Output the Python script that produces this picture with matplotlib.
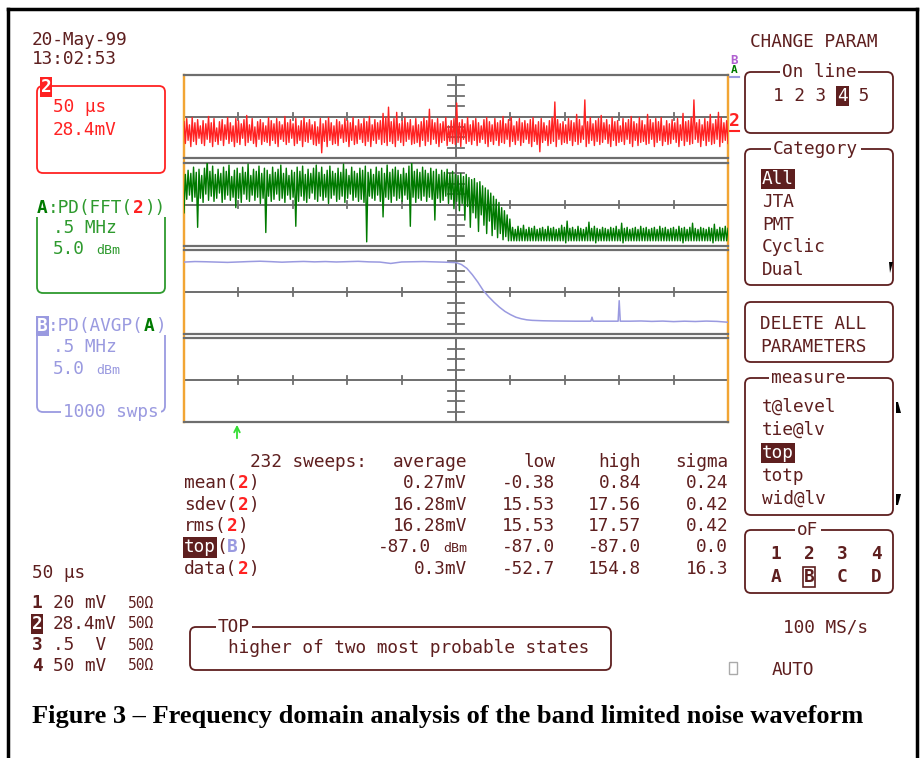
import numpy as np
import matplotlib
matplotlib.use('Agg')
import matplotlib.pyplot as plt
from matplotlib.patches import FancyBboxPatch, Rectangle, Polygon

W, H = 923, 758
MAROON = '#5e1f1f'
RED = '#ff2222'
GREEN_T = '#007a00'
GREEN = '#2e9a2e'
BLUE = '#9a9ae0'
PURPLE = '#b060d0'
ORANGE = '#f2a534'
GRAY = '#6e6e6e'
MONO = 'DejaVu Sans Mono'

# ---------------- data ----------------
# channel 2 noise trace (vertical divisions relative to centre line), 50 us/div
red_trace_div = [
    -0.5, -2.6, -0.2, -2.3, -0.8, -2.9, -0.1, -2.4, -0.6, -2.7,
    -0.3, -2.1, -0.9, -2.6, -0.4, -2.8, -0.7, -2.2, 0.0, -2.5,
    -0.6, -2.9, -0.2, -2.4, -1.1, -2.7, -0.5, -2.3, -0.3, -2.8,
    -0.8, -2.2, -0.1, -2.6, -0.6, -2.4, -0.9, -2.9, -0.2, -2.5,
    -0.4, -2.7, -0.7, -2.1, -0.3, -2.8, 0.1, -2.5, -0.8, -2.3,
    -0.2, -2.6, -1.0, -2.9, -0.5, -2.2, -0.3, -2.7, -0.6, -2.4,
    -0.9, -2.5, -0.1, -2.8, -0.4, -2.3, -0.7, -2.6, -0.2, -2.9,
    -0.5, -2.2, -0.8, -2.4, 0.0, -2.7, -0.6, -2.5, -0.3, -2.1,
    -0.7, -2.8, -0.2, -2.6, -0.9, -2.3, -0.4, -2.9, -0.1, -2.4,
    -0.6, -2.5, -0.3, -2.2, -0.8, -2.7, -0.5, -2.8, -1.0, -2.6,
    -0.2, -3.5, -0.7, -2.4, -0.4, -2.9, -0.1, -2.3, -0.6, -2.7,
    -0.9, -2.6, -0.3, -2.8, -0.5, -2.1, -0.8, -2.5, -0.2, -2.4,
    -0.4, -2.9, -0.6, -2.3, -0.1, -2.7, -0.9, -2.6, -0.3, -2.2,
    -0.7, -2.5, -0.2, -2.8, -0.5, -2.4, 0.0, -2.9, -0.8, -2.3,
    -0.3, -2.6, -0.6, -2.2, -0.4, -2.7, 0.3, -2.5, -0.1, -2.8,
    0.9, -2.4, -0.5, -2.6, -0.2, -2.9, 0.4, -2.3, -0.7, -2.5,
    -0.4, -2.8, -0.1, -2.4, -0.6, -2.2, -0.3, -2.7, -0.9, -2.6,
    -0.2, -2.5, -0.8, -2.9, -0.5, -2.3, -0.1, -2.8, -0.4, -2.4,
    0.7, -2.7, -0.3, -2.2, -0.6, -2.6, -0.2, -2.9, -0.7, -2.5,
    -0.5, -2.3, -0.1, -2.8, -0.9, -2.4, -0.4, -2.6, -0.2, -2.7,
    1.3, -2.5, -0.6, -2.9, -0.3, -2.2, -0.7, -2.6, -0.1, -2.4,
    -0.8, -2.7, -0.4, -2.3, -0.2, -2.8, -0.6, -2.5, -0.9, -2.2,
    -0.3, -2.6, -0.1, -2.9, -0.5, -2.4, -0.8, -2.7, -0.2, -2.3,
    -0.6, -2.8, -0.4, -2.5, 0.0, -2.6, -0.7, -2.2, -0.3, -2.9,
    -0.1, -2.4, -0.9, -2.7, -0.5, -2.3, -0.2, -2.8, -0.6, -2.5,
    -0.4, -2.2, -0.7, -2.6, -0.3, -2.9, -0.1, -2.4, -0.8, -2.7,
    -0.5, -3.4, -0.2, -2.5, -0.6, -2.3, -0.9, -2.8, -0.4, -2.6,
    -0.1, -2.4, 1.4, -2.9, -0.3, -2.2, -0.7, -2.7, -0.5, -2.5,
    -0.8, -2.6, -0.2, -2.3, -0.4, -2.8, -0.6, -2.4, 0.2, -2.7,
    -0.3, -2.5, -0.9, -2.2, 1.6, -2.9, -0.5, -2.6, -0.1, -2.3,
    -0.7, -2.8, -0.4, -2.4, -0.2, -2.7, 0.1, -2.5, -0.6, -2.2,
    -0.3, -2.6, -0.8, -2.9, -0.1, -2.3, -0.5, -2.8, -0.4, -2.5,
    -0.9, -2.4, -0.2, -2.7, -0.6, -2.2, -0.3, -2.6, 0.0, -2.9,
    -0.5, -2.3, -0.7, -2.8, -0.1, -2.5, -0.4, -2.4, -0.8, -2.7,
    0.2, -2.6, -0.3, -2.2, -0.6, -2.9, -0.2, -2.5, -0.5, -2.3,
    -0.1, -2.8, -0.9, -2.4, -0.4, -2.7, -0.7, -2.6, -0.3, -2.2,
    -0.6, -2.5, -0.2, -2.9, -0.8, -2.3, 0.3, -2.8, -0.5, -2.4,
    -0.4, -2.7, -0.1, -2.6, 1.6, -2.2, -0.6, -2.5, -0.3, -2.9,
    -0.8, -2.3, -0.2, -2.8, -0.5, -2.4, 0.2, -2.7, -0.7, -2.6,
    -0.3, -2.2, 0.4, -2.9, -0.1, -2.5, -0.6, -2.3, -0.4, -2.6,
]

# trace A: power density of FFT(2), divisions (5 dBm/div), 0.5 MHz/div
green_fft_div = [
    -0.8, 2.9, 0.5, 3.3, 0.9, 3.0, 0.3, 3.6, 0.7, 3.1,
    -2.2, 3.4, 0.6, 2.8, 0.2, 3.5, 1.0, 4.4, 0.4, 3.2,
    0.8, 3.7, 0.3, 2.9, 0.6, 3.4, 1.1, 3.0, 0.2, 3.6,
    0.5, 3.2, 0.9, 3.8, 0.4, 2.7, 0.7, 3.3, -0.3, 3.5,
    0.6, 3.0, 0.2, 3.6, 1.0, 3.1, 0.5, 3.9, 0.3, 2.8,
    0.9, 3.4, 0.4, 3.2, 0.7, 3.7, 0.1, 3.0, 0.6, 3.5,
    -2.7, 3.3, 0.8, 2.9, 0.3, 3.6, 0.5, 3.1, 1.0, 3.4,
    0.4, 3.8, 0.6, 3.0, 0.2, 3.5, 0.9, 2.8, 0.5, 3.3,
    0.7, 3.1, -2.1, 3.6, 0.3, 3.2, 0.8, 3.7, 0.4, 2.9,
    0.2, 3.4, 0.6, 3.0, 1.1, 3.5, 0.5, 3.8, 0.3, 3.1,
    0.8, 3.6, 0.4, 2.9, 0.7, 3.3, 0.1, 3.7, 0.6, 3.2,
    0.9, 3.0, 0.3, 3.5, 0.5, 3.1, 0.8, 3.9, 0.2, 3.4,
    0.6, 2.8, 1.0, 3.6, 0.4, 3.2, 0.7, 3.0, 0.3, 3.5,
    0.5, 3.3, 0.2, 3.7, -3.6, 3.1, 0.8, 3.4, 0.6, 2.9,
    0.4, 3.6, 0.9, 3.2, 0.3, 3.5, -1.2, 3.0, 0.7, 3.8,
    0.5, 3.1, 0.2, 3.4, 0.8, 3.6, 0.4, 3.3, 0.6, 2.9,
    0.3, 3.5, 0.9, 3.0, 0.5, 3.7, -2.1, 4.2, 0.7, 3.2,
    0.2, 3.4, 0.6, 3.1, 0.4, 3.6, 0.8, 3.3, 0.3, 3.0,
    0.7, 3.5, 0.5, 3.2, -1.5, 3.4, 0.6, 2.9, 0.2, 3.3,
    0.4, 3.1, 0.8, 3.4, 0.1, 3.0, 0.5, 3.2, -0.4, 2.9,
    0.3, 2.8, -0.6, 3.0, 0.1, 2.7, -1.5, 2.9, -0.2, 2.6,
    -2.2, 2.4, -0.8, 2.5, -1.3, 2.1, -2.6, 2.2, -1.0, 1.8,
    -2.0, 1.6, -2.8, 1.4, -1.6, 1.1, -3.0, 0.8, -2.4, 0.5,
    -3.2, 0.2, -2.8, -0.3, -3.4, -0.6, -3.1, -1.0, -3.5, -1.4,
    -3.5, -2.2, -3.5, -2.4, -3.5, -2.1, -3.5, -2.3, -3.5, -2.0,
    -3.5, -2.4, -3.5, -2.2, -3.5, -2.3, -3.5, -2.1, -3.5, -2.4,
    -3.5, -2.3, -3.5, -2.2, -3.5, -2.4, -3.5, -2.1, -3.5, -2.3,
    -3.5, -2.2, -3.5, -2.4, -3.5, -2.3, -3.5, -2.0, -3.5, -2.2,
    -3.7, -1.6, -3.5, -2.3, -3.5, -2.2, -3.5, -2.4, -3.5, -2.1,
    -3.5, -2.3, -3.5, -2.4, -3.5, -2.2, -3.5, -1.7, -3.5, -2.3,
    -3.5, -2.1, -3.7, -2.3, -3.5, -2.4, -3.5, -2.2, -3.5, -2.3,
    -3.5, -2.4, -3.5, -2.2, -3.5, -2.3, -3.5, -2.1, -3.5, -2.4,
    -3.5, -1.8, -3.7, -2.3, -3.5, -2.2, -3.5, -2.4, -3.5, -2.3,
    -3.5, -2.2, -3.5, -2.4, -3.5, -2.1, -3.5, -2.3, -3.5, -2.2,
    -3.5, -2.4, -3.5, -2.3, -3.5, -2.2, -3.5, -2.4, -3.5, -2.1,
    -3.5, -2.3, -3.5, -2.2, -3.5, -2.4, -3.5, -2.3, -3.5, -2.2,
    -3.5, -2.4, -3.5, -2.1, -3.5, -2.3, -3.7, -2.2, -3.5, -2.4,
    -3.5, -2.2, -3.5, -1.8, -3.5, -2.3, -3.5, -2.4, -3.5, -2.2,
    -3.5, -2.3, -3.5, -2.4, -3.5, -2.2, -3.5, -2.3, -3.7, -1.9,
    -3.5, -2.4, -3.5, -2.2, -3.5, -2.3, -3.5, -2.1, -3.5, -2.3,
]

# trace B: averaged power density (1000 sweeps)
blue_freq_mhz = [
    0.0, 0.1, 0.2, 0.3, 0.4, 0.5, 0.6, 0.7, 0.8, 0.9, 1.0, 1.1, 1.2, 1.3,
    1.4, 1.5, 1.6, 1.7, 1.8, 1.9, 2.0, 2.1, 2.2, 2.3, 2.4, 2.5,
    2.55, 2.6, 2.65, 2.7, 2.75, 2.8, 2.85, 2.9, 2.95, 3.0, 3.05, 3.1,
    3.15, 3.2, 3.3, 3.4, 3.5, 3.6, 3.7, 3.74, 3.75, 3.76, 3.8, 3.9,
    3.98, 3.99, 4.0, 4.01, 4.1, 4.2, 4.3, 4.4, 4.5, 4.6, 4.7, 4.8, 4.9, 5.0,
]
blue_avg_div = [
    2.85, 2.90, 2.88, 2.85, 2.82, 2.86, 2.90, 2.93, 2.89, 2.84, 2.88, 2.91, 2.87, 2.90,
    2.86, 2.89, 2.92, 2.87, 2.85, 2.72, 2.86, 2.88, 2.90, 2.87, 2.84, 2.80,
    2.62, 2.25, 1.65, 0.95, 0.15, -0.45, -0.98, -1.45, -1.85, -2.15, -2.40, -2.55,
    -2.65, -2.70, -2.74, -2.76, -2.77, -2.78, -2.78, -2.78, -2.40, -2.78, -2.78, -2.78,
    -2.78, -2.78, -0.83, -2.78, -2.78, -2.76, -2.80, -2.77, -2.82, -2.78, -2.81, -2.77, -2.80, -2.88,
]

stat_header = ['232 sweeps:', 'average', 'low', 'high', 'sigma']
stat_params = ['mean', 'sdev', 'rms', 'top', 'data']
stat_sources = ['2', '2', '2', 'B', '2']
stat_average = ['0.27mV', '16.28mV', '16.28mV', '-87.0', '0.3mV']
stat_low = ['-0.38', '15.53', '15.53', '-87.0', '-52.7']
stat_high = ['0.84', '17.56', '17.57', '-87.0', '154.8']
stat_sigma = ['0.24', '0.42', '0.42', '0.0', '16.3']

channel_nums = ['1', '2', '3', '4']
channel_scales = ['20 mV', '28.4mV', '.5  V', '50 mV']
channel_coupling = ['50\u03a9', '50\u03a9', '50\u03a9', '50\u03a9']

category_items = ['All', 'JTA', 'PMT', 'Cyclic', 'Dual']
measure_items = ['t@level', 'tie@lv', 'top', 'totp', 'wid@lv']

# ---------------- figure ----------------
fig = plt.figure(figsize=(W / 100, H / 100), dpi=100)
ov = fig.add_axes([0, 0, 1, 1])
ov.set_xlim(0, W)
ov.set_ylim(H, 0)
ov.axis('off')

FS = 12.8
ADV = 0.602 * FS * 100 / 72


def t(x, y, s, color=MAROON, size=FS, weight='normal', ha='left', bg=None,
      ec='none', fam=MONO, z=4):
    kw = {}
    if bg is not None:
        kw['bbox'] = dict(boxstyle='square,pad=0.06', fc=bg, ec=ec, lw=1.2)
    ov.text(x, y, s, color=color, fontsize=size, fontweight=weight, ha=ha,
            va='center', family=fam, zorder=z, **kw)


def seg(x, y, parts, size=FS, mask=False):
    adv = ADV * size / FS
    n = sum(len(p[0]) for p in parts)
    if mask:
        ov.add_patch(Rectangle((x - 2, y - 9), n * adv + 4, 18, fc='white',
                               ec='none', zorder=3))
    cx = x
    for p in parts:
        s, col = p[0], p[1]
        wt = p[2] if len(p) > 2 else 'normal'
        bg = p[3] if len(p) > 3 else None
        ec = p[4] if len(p) > 4 else 'none'
        t(cx, y, s, col, size=size, weight=wt, bg=bg, ec=ec)
        cx += len(s) * adv


def rbox(x0, y0, x1, y1, color=MAROON, lw=1.3, r=6):
    ov.add_patch(FancyBboxPatch((x0, y0), x1 - x0, y1 - y0,
                                boxstyle='round,pad=0,rounding_size=%d' % r,
                                fc='none', ec=color, lw=lw, zorder=2))


def label_center(cx, y, s, color=MAROON):
    n = len(s)
    x = cx - n * ADV / 2
    seg(x, y, [(s, color)], mask=True)


# outer frame
ov.plot([8, 8], [9, H], color='black', lw=2.5)
ov.plot([8, 917], [9, 9], color='black', lw=2.5)
ov.plot([917, 917], [9, H], color='black', lw=2.5)

# date / time
t(32, 40, '20-May-99')
t(32, 59, '13:02:53')

# channel 2 box
rbox(37, 86, 165, 173, RED)
t(46, 87, '2', 'white', weight='bold', ha='center', bg=RED)
t(53, 107, '50 \u03bcs', RED)
t(53, 130, '28.4mV', RED)

# trace A box
rbox(37, 208, 165, 293, GREEN)
seg(37, 208, [('A', GREEN_T, 'bold'), (':PD(FFT(', GREEN), ('2', RED, 'bold'),
              ('))', GREEN)], mask=True)
t(53, 228, '.5 MHz', GREEN)
t(53, 249, '5.0', GREEN)
t(53 + 4 * ADV, 250, 'dBm', GREEN, size=9.5)

# trace B box
rbox(37, 326, 165, 412, BLUE)
seg(37, 326, [('B', 'white', 'bold', BLUE), (':PD(AVGP(', BLUE),
              ('A', GREEN_T, 'bold'), (')', BLUE)], mask=True)
t(53, 347, '.5 MHz', BLUE)
t(53, 369, '5.0', BLUE)
t(53 + 4 * ADV, 370, 'dBm', BLUE, size=9.5)
seg(63, 412, [('1000 swps', BLUE)], mask=True)

# timebase and channel list
t(32, 573, '50 \u03bcs')
for i, (num, sc, cp) in enumerate(zip(channel_nums, channel_scales, channel_coupling)):
    y = 603 + i * 21
    if num == '2':
        t(37, y, num, 'white', weight='bold', ha='center', bg=MAROON)
    else:
        t(37, y, num, MAROON, weight='bold', ha='center')
    t(53, y, sc)
    t(128, y, cp, size=10.5)

# ---------------- scope panels ----------------
panel_px = [(75, 158), (163, 246), (250, 334), (338, 422)]
PX0, PX1 = 184, 728
axes = []
for (top, bot) in panel_px:
    ax = fig.add_axes([PX0 / W, 1 - bot / H, (PX1 - PX0) / W, (bot - top) / H])
    ax.set_xlim(0, 10)
    ax.set_ylim(-4, 4)
    ax.set_facecolor('none')
    ax.set_xticks([])
    ax.set_yticks([])
    for side in ['top', 'bottom']:
        ax.spines[side].set_color(GRAY)
        ax.spines[side].set_linewidth(1.6)
    for side in ['left', 'right']:
        ax.spines[side].set_color(ORANGE)
        ax.spines[side].set_linewidth(1.6)
    ax.axhline(0, color=GRAY, lw=1.4, zorder=1)
    ax.axvline(5, color=GRAY, lw=1.4, zorder=1)
    for k in range(1, 10):
        ax.plot([k, k], [-0.38, 0.38], color=GRAY, lw=1.3, zorder=1)
    for j in [-3, -2, -1, 1, 2, 3]:
        ax.plot([4.86, 5.14], [j, j], color=GRAY, lw=1.3, zorder=1)
    axes.append(ax)

# continuous orange edges
ov.plot([PX0, PX0], [75, 422], color=ORANGE, lw=1.6, zorder=1)
ov.plot([PX1, PX1], [75, 422], color=ORANGE, lw=1.6, zorder=1)

x_red = np.linspace(0, 10, len(red_trace_div))
axes[0].plot(x_red, red_trace_div, color=RED, lw=1.0, zorder=3)
x_green = np.linspace(0, 10, len(green_fft_div))
axes[1].plot(x_green, green_fft_div, color=GREEN_T, lw=1.0, zorder=3)
axes[2].plot(np.array(blue_freq_mhz) / 0.5, blue_avg_div, color=BLUE, lw=1.1, zorder=3)

# trace markers on right edge
t(734, 121, '2', RED, size=13, weight='bold', ha='center')
ov.plot([730, 739], [131, 131], color=RED, lw=1.5)
t(734, 60, 'B', PURPLE, size=9, weight='bold', ha='center')
t(734, 70, 'A', GREEN_T, size=8, weight='bold', ha='center')
ov.plot([730, 739], [77, 77], color=BLUE, lw=1.5)

# trigger arrow
ov.annotate('', xy=(237, 422), xytext=(237, 441),
            arrowprops=dict(arrowstyle='->', color='#33dd33', lw=1.3))

# ---------------- statistics table ----------------
t(367, 462, stat_header[0], ha='right')
col_right = [467, 555, 641, 728]
for h, xr in zip(stat_header[1:], col_right):
    t(xr, 462, h, ha='right')
for i in range(len(stat_params)):
    y = 483 + i * 21.5
    p, src = stat_params[i], stat_sources[i]
    if p == 'top':
        seg(184, y, [(p, 'white', 'normal', MAROON), ('(', MAROON),
                     (src, BLUE, 'bold'), (')', MAROON)])
    else:
        seg(184, y, [(p + '(', MAROON), (src, RED, 'bold'), (')', MAROON)])
    if p == 'top':
        t(431, y, stat_average[i], ha='right')
        t(467, y + 1, 'dBm', size=9.5, ha='right')
    else:
        t(467, y, stat_average[i], ha='right')
    t(555, y, stat_low[i], ha='right')
    t(641, y, stat_high[i], ha='right')
    t(728, y, stat_sigma[i], ha='right')

# help box
rbox(190, 627, 611, 670)
seg(218, 627, [('TOP', MAROON)], mask=True)
t(228, 648, 'higher of two most probable states')

# ---------------- right menu ----------------
t(750, 42, 'CHANGE PARAM')

rbox(745, 72, 893, 133)
label_center(819, 72, 'On line')
seg(773, 96, [('1 2 3 ', MAROON), ('4', 'white', 'normal', MAROON), (' 5', MAROON)])

rbox(745, 149, 893, 285)
label_center(816, 149, 'Category')
for i, item in enumerate(category_items):
    y = 179 + i * 22.8
    if i == 0:
        t(762, y, item, 'white', bg=MAROON)
    else:
        t(762, y, item)
ov.add_patch(Polygon([[889, 262], [893, 262], [890, 273]], closed=True,
                     fc='black', ec='none', zorder=5))

rbox(745, 302, 893, 362)
t(760, 324, 'DELETE ALL')
t(760, 347, 'PARAMETERS')

rbox(745, 378, 893, 515)
label_center(808, 378, 'measure')
for i, item in enumerate(measure_items):
    y = 407 + i * 23
    if item == 'top':
        t(762, y, item, 'white', bg=MAROON)
    else:
        t(762, y, item)
ov.add_patch(Polygon([[896, 402], [898, 402], [901, 413], [896, 413]], closed=True,
                     fc='black', ec='none', zorder=5))
ov.add_patch(Polygon([[896, 494], [901, 494], [898, 505], [896, 505]], closed=True,
                     fc='black', ec='none', zorder=5))

rbox(745, 530, 893, 593)
label_center(808, 530, 'oF')
of_x = [776, 809, 842, 876]
for xc, n, s in zip(of_x, ['1', '2', '3', '4'], ['A', 'B', 'C', 'D']):
    t(xc, 554, n, weight='bold', ha='center')
    if s == 'B':
        t(xc, 577, s, weight='bold', ha='center', bg='white', ec=MAROON)
    else:
        t(xc, 577, s, weight='bold', ha='center')

t(783, 627, '100 MS/s')
ov.add_patch(Rectangle((729, 662), 8, 12, fc='none', ec='#aaaaaa', lw=1, zorder=2))
t(772, 670, 'AUTO')

# caption
ov.text(32, 716, 'Figure 3 \u2013 Frequency domain analysis of the band limited noise waveform',
        family='Liberation Serif', fontweight='bold', fontsize=19, va='center',
        color='black', zorder=4)

fig.savefig('out.png', dpi=100)
